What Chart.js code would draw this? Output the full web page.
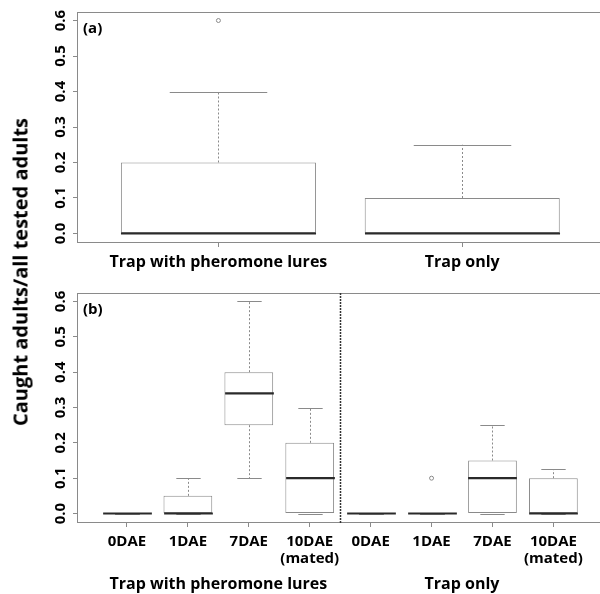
<!DOCTYPE html>
<html>
<head>
<meta charset="utf-8">
<script src="https://cdn.jsdelivr.net/npm/chart.js@4.4.1/dist/chart.umd.min.js"></script>
<style>
  body { margin: 0; background: #fff; width: 600px; height: 594px; position: relative; overflow: hidden; }
  canvas { position: absolute; left: 0; }
  #chartA { top: 0; }
  #chartB { top: 280px; }
  #yTitle {
    position: absolute; left: 20px; top: 272px;
    transform: translate(-50%, -50%) rotate(-90deg);
    font: 700 20px 'Open Sans', sans-serif; white-space: nowrap; color: #000;
  }
</style>
</head>
<body>
<canvas id="chartA" width="600" height="280"></canvas>
<canvas id="chartB" width="600" height="314"></canvas>
<div id="yTitle">Caught adults/all tested adults</div>
<script>
// y axis
const yTicks = [0, 0.1, 0.2, 0.3, 0.4, 0.5, 0.6];
const yTickLabels = ['0.0', '0.1', '0.2', '0.3', '0.4', '0.5', '0.6'];

// panel (a)
const aLabels = ['Trap with pheromone lures', 'Trap only'];
const aLow = [0, 0];
const aQ1 = [0, 0];
const aMedian = [0, 0];
const aQ3 = [0.2, 0.1];
const aHigh = [0.4, 0.25];
const aOutliers = [[0.6], []];

// panel (b)
const bLabels = [['0DAE'], ['1DAE'], ['7DAE'], ['10DAE', '(mated)'], ['0DAE'], ['1DAE'], ['7DAE'], ['10DAE', '(mated)']];
const bLow = [0, 0, 0.1, 0, 0, 0, 0, 0];
const bQ1 = [0, 0, 0.25, 0, 0, 0, 0, 0];
const bMedian = [0, 0, 0.34, 0.1, 0, 0, 0.1, 0];
const bQ3 = [0, 0.05, 0.4, 0.2, 0, 0, 0.15, 0.1];
const bHigh = [0, 0.1, 0.6, 0.3, 0, 0, 0.25, 0.125];
const bOutliers = [[], [], [], [], [], [0.1], [], []];
const bGroups = ['Trap with pheromone lures', 'Trap only'];

Chart.defaults.font.family = "'Open Sans', sans-serif";
Chart.defaults.color = '#000';

const GREY = '#8a8a8a';

// whiskers, staples, medians, frame and rotated y labels
const boxParts = {
  id: 'boxParts',
  afterDatasetsDraw(chart, args, o) {
    const {ctx, scales: {x, y}} = chart;
    ctx.save();
    o.pos.forEach((p, i) => {
      const cx = Math.round(x.getPixelForValue(p)) + 0.5;
      const sh = x.getPixelForValue(p + 0.2) - x.getPixelForValue(p);
      const mh = x.getPixelForValue(p + 0.4) - x.getPixelForValue(p);
      // dashed whiskers
      ctx.strokeStyle = GREY;
      ctx.lineWidth = 1;
      ctx.setLineDash([2, 2]);
      ctx.beginPath();
      ctx.moveTo(cx, y.getPixelForValue(o.q3[i]));
      ctx.lineTo(cx, y.getPixelForValue(o.high[i]));
      ctx.moveTo(cx, y.getPixelForValue(o.q1[i]));
      ctx.lineTo(cx, y.getPixelForValue(o.low[i]));
      ctx.stroke();
      // staples
      ctx.setLineDash([]);
      ctx.beginPath();
      [o.high[i], o.low[i]].forEach(v => {
        const py = Math.round(y.getPixelForValue(v)) + 0.5;
        ctx.moveTo(cx - sh, py);
        ctx.lineTo(cx + sh, py);
      });
      ctx.stroke();
      // median
      ctx.strokeStyle = '#2a2a2a';
      ctx.lineWidth = 2.2;
      ctx.beginPath();
      const my = y.getPixelForValue(o.median[i]);
      ctx.moveTo(cx - mh, my);
      ctx.lineTo(cx + mh, my);
      ctx.stroke();
    });
    ctx.restore();
  },
  afterDraw(chart, args, o) {
    const {ctx, chartArea: ca, scales: {x, y}} = chart;
    ctx.save();
    // plot frame: top, left and bottom only, the right side lies past the picture
    const l = Math.round(ca.left);
    const t = Math.round(ca.top);
    const b = Math.round(ca.bottom);
    const r = Math.round(Math.min(x.getPixelForValue(o.frameRight), ca.right));
    ctx.fillStyle = GREY;
    ctx.fillRect(l, t, r - l, 1);
    ctx.fillRect(l, b, r - l, 1);
    ctx.fillRect(l, t, 1, b - t + 1);
    // separator
    if (o.separator != null) {
      const sx = Math.round(x.getPixelForValue(o.separator)) + 0.5;
      ctx.strokeStyle = '#333';
      ctx.lineWidth = 1.5;
      ctx.setLineDash([2, 1]);
      ctx.beginPath();
      ctx.moveTo(sx, ca.top);
      ctx.lineTo(sx, ca.bottom + 1);
      ctx.stroke();
      ctx.setLineDash([]);
    }
    // y tick labels, rotated like base R
    ctx.fillStyle = '#000';
    ctx.font = "700 15px 'Open Sans', sans-serif";
    ctx.textAlign = 'center';
    ctx.textBaseline = 'middle';
    yTicks.forEach((v, i) => {
      ctx.save();
      ctx.translate(61, y.getPixelForValue(v));
      ctx.rotate(-Math.PI / 2);
      ctx.fillText(yTickLabels[i], 0, 0);
      ctx.restore();
    });
    // panel letter
    ctx.textAlign = 'left';
    ctx.fillText(o.letter, ca.left + 6, ca.top + 17);
    // group labels under panel (b)
    if (o.groups) {
      ctx.font = "700 16px 'Open Sans', sans-serif";
      ctx.textAlign = 'center';
      o.groups.forEach((g, i) => {
        ctx.fillText(g, x.getPixelForValue(o.groupPos[i]), o.groupY);
      });
    }
    ctx.restore();
  }
};

function makeBoxChart(id, s) {
  const pos = s.labels.map((l, i) => i + 1);
  const outPts = [];
  s.outliers.forEach((arr, i) => arr.forEach(v => outPts.push({x: pos[i], y: v})));
  return new Chart(document.getElementById(id), {
    type: 'bar',
    data: {
      datasets: [{
        data: pos.map((p, i) => ({x: p, y: [s.q1[i], s.q3[i]]})),
        backgroundColor: '#fff',
        borderColor: GREY,
        borderWidth: 1,
        borderSkipped: false,
        categoryPercentage: 1,
        barPercentage: 0.8
      }, {
        type: 'scatter',
        data: outPts,
        pointRadius: 2,
        pointBorderColor: GREY,
        pointBackgroundColor: 'rgba(0,0,0,0)',
        pointBorderWidth: 1
      }]
    },
    options: {
      responsive: false,
      animation: false,
      devicePixelRatio: 1,
      layout: {autoPadding: false, padding: {top: s.top, right: 0, left: 0, bottom: 0}},
      plugins: {
        legend: {display: false},
        tooltip: {enabled: false},
        boxParts: {
          pos, low: s.low, q1: s.q1, median: s.median, q3: s.q3, high: s.high,
          frameRight: s.frameRight, separator: s.separator, letter: s.letter,
          groups: s.groups, groupPos: s.groupPos, groupY: s.groupY
        }
      },
      scales: {
        x: {
          type: 'linear',
          offset: false,
          min: s.xMin,
          max: s.xMax,
          afterBuildTicks: ax => { ax.ticks = pos.map(v => ({value: v})); },
          afterFit: ax => { ax.height = s.xAxisH; ax.paddingLeft = 0; ax.paddingRight = 0; },
          ticks: {
            autoSkip: false, maxRotation: 0, padding: s.tickPad,
            font: {size: s.tickSize, weight: 'bold', lineHeight: 1.15},
            callback: (v, i) => s.labels[i]
          },
          grid: {drawOnChartArea: false, tickLength: 5, color: GREY, offset: false},
          border: {display: false}
        },
        y: {
          min: -0.024,
          max: 0.624,
          afterBuildTicks: ax => { ax.ticks = yTicks.map(v => ({value: v})); },
          afterFit: ax => { ax.width = 77; ax.paddingTop = 0; ax.paddingBottom = 0; },
          ticks: {display: false},
          grid: {drawOnChartArea: false, tickLength: 4, color: GREY},
          border: {display: false}
        }
      }
    },
    plugins: [boxParts]
  });
}

makeBoxChart('chartA', {
  labels: aLabels, low: aLow, q1: aQ1, median: aMedian, q3: aQ3, high: aHigh, outliers: aOutliers,
  xMin: 0.42, xMax: 2.565, frameRight: 2.6, top: 12, xAxisH: 38, tickPad: 6, tickSize: 16,
  letter: '(a)'
});

makeBoxChart('chartB', {
  labels: bLabels, low: bLow, q1: bQ1, median: bMedian, q3: bQ3, high: bHigh, outliers: bOutliers,
  xMin: 0.18, xMax: 8.765, frameRight: 8.9, top: 13, xAxisH: 72, tickPad: 6, tickSize: 15,
  separator: 4.5, letter: '(b)',
  groups: bGroups, groupPos: [2.5, 6.5], groupY: 304
});
</script>
</body>
</html>
